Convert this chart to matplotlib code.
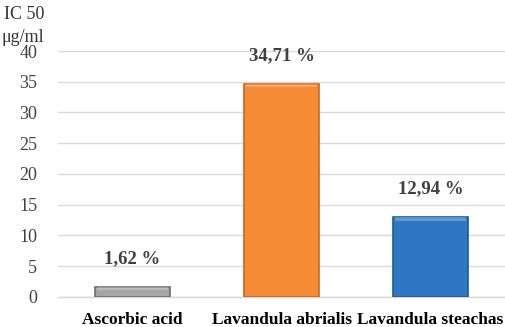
import matplotlib
matplotlib.use("Agg")
import matplotlib.pyplot as plt
import numpy as np

categories = ["Ascorbic acid", "Lavandula abrialis", "Lavandula steachas"]
values = [1.62, 34.71, 12.94]
value_labels = ["1,62 %", "34,71 %", "12,94 %"]
yticks = [0, 5, 10, 15, 20, 25, 30, 35, 40]

face_colors = ["#A6A6A6", "#F68B35", "#2F77C2"]
edge_colors = ["#6E6E6E", "#C8681C", "#1F5A96"]

plt.rcParams['font.family'] = ['Liberation Serif', 'DejaVu Serif']

fig = plt.figure(figsize=(5.05, 3.27), dpi=100)
ax = fig.add_axes([0.115, 0.092, 0.885, 0.752])

x = np.arange(len(categories))
bars = ax.bar(x, values, width=0.5, color=face_colors, edgecolor=edge_colors,
              linewidth=1.2, zorder=3)
# light bevel on top of bars
for xi, v, ec in zip(x, values, face_colors):
    ax.bar(xi, min(0.6, v * 0.3), bottom=v - min(0.6, v * 0.3), width=0.48,
           color="white", alpha=0.25, zorder=4, linewidth=0)

for xi, v, lab in zip(x, values, value_labels):
    ax.text(xi, v + 4.6, lab, ha="center", va="center", fontsize=13.5,
            fontweight="bold", color="#404040", clip_on=False)

ax.set_xlim(-0.5, 2.5)
ax.set_ylim(0, 40)
ax.set_yticks(yticks)
ax.set_yticklabels([str(t) for t in yticks], fontsize=13, color="#404040")
ax.set_xticks(x)
ax.set_xticklabels(categories, fontsize=12.5, fontweight="bold", color="#000000")
ax.grid(axis="y", color="#D9D9D9", linewidth=1, zorder=0)
ax.tick_params(axis="both", length=0)
ax.tick_params(axis="x", pad=11)
ax.tick_params(axis="y", pad=15)
for s in ["top", "right", "left"]:
    ax.spines[s].set_visible(False)
ax.spines["bottom"].set_color("#D9D9D9")
ax.spines["bottom"].set_linewidth(1)

fig.text(0.048, 0.955, "IC 50", ha="center", va="center", fontsize=13, color="#333333")
fig.text(0.045, 0.885, "μg/ml", ha="center", va="center", fontsize=13, color="#333333")

fig.savefig("out.png", dpi=100)
